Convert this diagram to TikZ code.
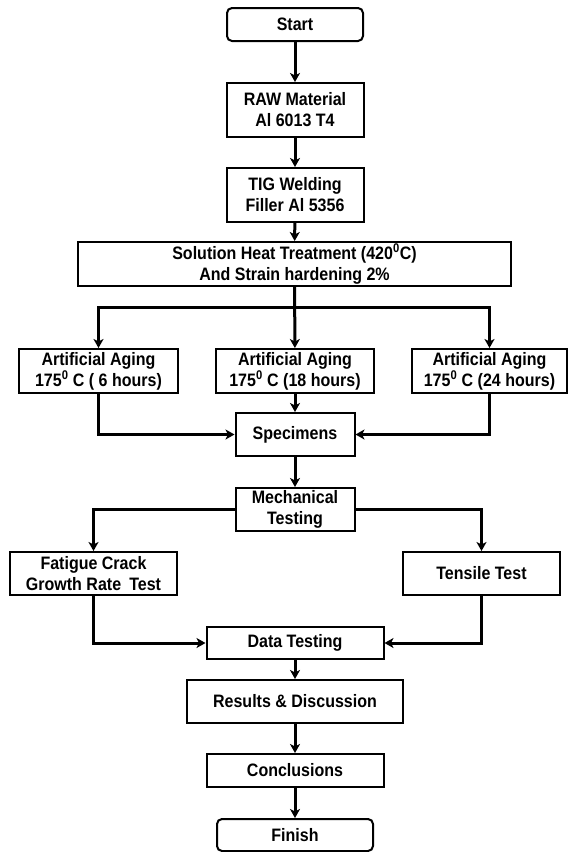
\documentclass[tikz,border=0pt]{standalone}
\usepackage{fontspec}
\setmainfont{Liberation Sans}
\newfontfamily\boxfont[FakeStretch=0.89]{Liberation Sans}
\usetikzlibrary{arrows.meta}
\begin{document}
\begin{tikzpicture}[x=1pt,y=-1pt,
  box/.style={draw=black, line width=2pt, fill=white, inner sep=0pt, align=center,
    font=\boxfont\fontsize{18}{21}\selectfont\bfseries},
  rbox/.style={box, rounded corners=5pt},
  conn/.style={line width=3pt, line cap=butt},
  arr/.style={conn, -{Stealth[length=9pt,width=10pt,inset=2.5pt]}}]
\useasboundingbox (0,0) rectangle (568,852);

\node[rbox, minimum width=136pt, minimum height=33pt] (start) at (295,24.5) {Start};
\node[box, minimum width=137pt, minimum height=54pt] (raw) at (295,110) {RAW Material\\Al 6013 T4};
\node[box, minimum width=137pt, minimum height=54pt] (tig) at (295,195) {TIG Welding\\Filler Al 5356};
\node[box, minimum width=433pt, minimum height=44pt] (sol) at (294.5,264) {Solution Heat Treatment (420\textsuperscript{0}C)\\And Strain hardening 2\%};

\node[box, minimum width=159pt, minimum height=44pt] (aa1) at (98.5,371) {Artificial Aging\\175\textsuperscript{0} C ( 6 hours)};
\node[box, minimum width=158pt, minimum height=44pt] (aa2) at (295,371) {Artificial Aging\\175\textsuperscript{0} C (18 hours)};
\node[box, minimum width=155pt, minimum height=44pt] (aa3) at (489.5,371) {Artificial Aging\\175\textsuperscript{0} C (24 hours)};

\node[box, minimum width=119pt, minimum height=43pt] (spec) at (295,434.5) {Specimens};
\node[box, minimum width=119pt, minimum height=43pt] (mech) at (295,509.5) {Mechanical\\Testing};

\node[box, minimum width=167pt, minimum height=43pt] (fat) at (93.5,573.5) {Fatigue Crack\\Growth Rate\hspace{0.45em}Test};
\node[box, minimum width=157pt, minimum height=43pt] (ten) at (481.5,573.5) {Tensile Test};

\node[box, minimum width=177pt, minimum height=32pt] (data) at (295,643) {Data Testing};
\node[box, minimum width=216pt, minimum height=43pt] (res) at (295,701.5) {Results \& Discussion};
\node[box, minimum width=177pt, minimum height=33pt] (conc) at (295,770.5) {Conclusions};
\node[rbox, minimum width=156pt, minimum height=32pt] (fin) at (295,835) {Finish};

\coordinate (bl) at (aa1.north |- 0,307);
\coordinate (br) at (aa3.north |- 0,307);

\draw[arr] (start) -- (raw);
\draw[arr] (raw) -- (tig);
\draw[arr] (tig) -- (sol);
\draw[arr] (sol) -- (aa2);
\draw[conn] ([xshift=-1.5pt]bl) -- ([xshift=1.5pt]br);
\draw[arr] ([yshift=-1.5pt]bl) -- (aa1);
\draw[arr] ([yshift=-1.5pt]br) -- (aa3);

\draw[arr] (aa1.south) |- (spec.west);
\draw[arr] (aa2) -- (spec);
\draw[arr] (aa3.south) |- (spec.east);
\draw[arr] (spec) -- (mech);

\draw[arr] (mech.west) -| (fat.north);
\draw[arr] (mech.east) -| (ten.north);
\draw[arr] (fat.south) |- (data.west);
\draw[arr] (ten.south) |- (data.east);

\draw[arr] (data) -- (res);
\draw[arr] (res) -- (conc);
\draw[arr] (conc) -- (fin);
\end{tikzpicture}
\end{document}
